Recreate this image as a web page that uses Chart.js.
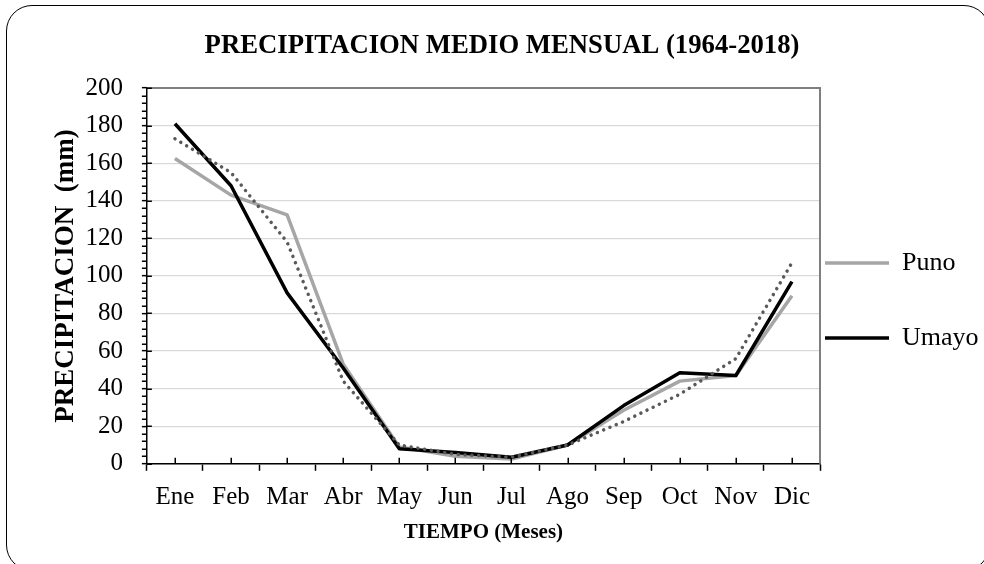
<!DOCTYPE html>
<html><head><meta charset="utf-8">
<script src="https://cdn.jsdelivr.net/npm/chart.js@4.4.1/dist/chart.umd.min.js"></script>
<style>
html,body{margin:0;padding:0;background:#fff;overflow:hidden;}
#wrap{position:relative;width:984px;height:564px;overflow:hidden;}
#frame{position:absolute;left:6px;top:5px;width:984px;height:566px;border:1.5px solid #000;border-radius:26px;box-sizing:border-box;pointer-events:none;}
canvas{position:absolute;left:0;top:0;}
</style></head><body>
<div id="wrap"><canvas id="c" width="984" height="564"></canvas><div id="frame"></div></div>
<script>
const months = ['Ene','Feb','Mar','Abr','May','Jun','Jul','Ago','Sep','Oct','Nov','Dic'];
const puno = [162.5, 143, 132.5, 53, 9, 4, 2.5, 10, 28.5, 44, 47, 89.5];
const umayo = [181, 148, 91, 51, 8, 6, 3.5, 10, 31, 48.5, 47, 97];
const dotted = [173, 155, 118, 44, 10, 5, 3.5, 10, 22.5, 37, 56, 107];
const yMin = 0, yMax = 200, yStep = 20, yMinorStep = 4;

const serif = 'Liberation Serif';

const extraTicks = {
  id: 'extraTicks',
  afterDraw(chart) {
    const ctx = chart.ctx, a = chart.chartArea;
    const ys = chart.scales.y, xs = chart.scales.x;
    ctx.save();
    ctx.strokeStyle = '#7f7f7f';
    ctx.lineWidth = 2;
    ctx.beginPath();
    ctx.moveTo(a.left, a.top); ctx.lineTo(a.right, a.top); ctx.lineTo(a.right, a.bottom);
    ctx.stroke();
    ctx.strokeStyle = '#000';
    ctx.lineWidth = 1.5;
    ctx.beginPath();
    for (let v = yMin; v <= yMax; v += yMinorStep) {
      const y = Math.round(ys.getPixelForValue(v)) + 0.25;
      if (v % yStep !== 0) { ctx.moveTo(a.left - 5, y); ctx.lineTo(a.left, y); }
      else { ctx.moveTo(a.left, y); ctx.lineTo(a.left + 5, y); }
    }
    for (let i = 0; i < months.length; i++) {
      const x = Math.round(xs.getPixelForValue(i)) + 0.25;
      ctx.moveTo(x, a.bottom); ctx.lineTo(x, a.bottom - 6);
    }
    ctx.stroke();
    ctx.restore();
  }
};

new Chart(document.getElementById('c'), {
  type: 'line',
  data: {
    labels: months,
    datasets: [
      { label: 'Puno', data: puno, borderColor: '#a6a6a6', borderWidth: 3.5, pointRadius: 0, tension: 0, order: 2, borderJoinStyle: 'round' },
      { label: 'Umayo', data: umayo, borderColor: '#000000', borderWidth: 3.5, pointRadius: 0, tension: 0, order: 1, borderJoinStyle: 'round' },
      { label: 'Tendencia', data: dotted, borderColor: '#595959', borderWidth: 3.5, pointRadius: 0, tension: 0, order: 0, borderDash: [0.01, 6.8], borderCapStyle: 'round' }
    ]
  },
  options: {
    responsive: false,
    animation: false,
    devicePixelRatio: 1,
    layout: { padding: { left: 20, right: 0, top: 0, bottom: 0 } },
    plugins: {
      tooltip: { enabled: false },
      title: {
        display: true,
        text: 'PRECIPITACION MEDIO MENSUAL (1964-2018)',
        color: '#000',
        font: { family: serif, size: 26.7, weight: 'bold', lineHeight: 1.2 },
        padding: { top: 30, bottom: 26 }
      },
      legend: {
        display: true,
        position: 'right',
        align: 'start',
        maxWidth: 164,
        title: { display: true, text: ' ', font: { size: 10, lineHeight: 1 }, padding: { top: 235, bottom: 0 } },
        labels: {
          color: '#000',
          font: { family: serif, size: 26, lineHeight: 1.5 },
          padding: 5,
          usePointStyle: true,
          pointStyleWidth: 64,
          generateLabels(chart) {
            const ds = chart.data.datasets;
            const item = (i) => ({ text: ds[i].label, strokeStyle: ds[i].borderColor, fillStyle: ds[i].borderColor, lineWidth: 3.5, pointStyle: 'line', datasetIndex: i, fontColor: '#000', lineCap: 'butt' });
            return [
              item(0),
              { text: [''], strokeStyle: 'rgba(0,0,0,0)', fillStyle: 'rgba(0,0,0,0)', lineWidth: 0, pointStyle: 'line', fontColor: '#000' },
              item(1)
            ];
          }
        }
      }
    },
    scales: {
      x: {
        type: 'category',
        offset: true,
        grid: { offset: true, drawOnChartArea: false, tickLength: 7, tickColor: '#000', tickWidth: 1.5 },
        border: { color: '#000', width: 1.5 },
        ticks: { color: '#000', font: { family: serif, size: 25 }, padding: 12, maxRotation: 0, autoSkip: false },
        title: { display: true, text: 'TIEMPO (Meses)', color: '#000', font: { family: serif, size: 21, weight: 'bold', lineHeight: 1.2 }, padding: { top: -5, bottom: 19 } }
      },
      y: {
        min: yMin, max: yMax,
        ticks: { stepSize: yStep, color: '#000', font: { family: serif, size: 25 }, padding: 19 },
        grid: { color: '#d9d9d9', lineWidth: 1.3, tickLength: 5, tickColor: '#000', tickWidth: 1.5 },
        border: { color: '#000', width: 1.5 },
        title: { display: true, text: 'PRECIPITACION  (mm)', color: '#000', font: { family: serif, size: 27, weight: 'bold', lineHeight: 1.2 }, padding: { top: 30, bottom: -16 } }
      }
    }
  },
  plugins: [extraTicks]
});
</script>
</body></html>
